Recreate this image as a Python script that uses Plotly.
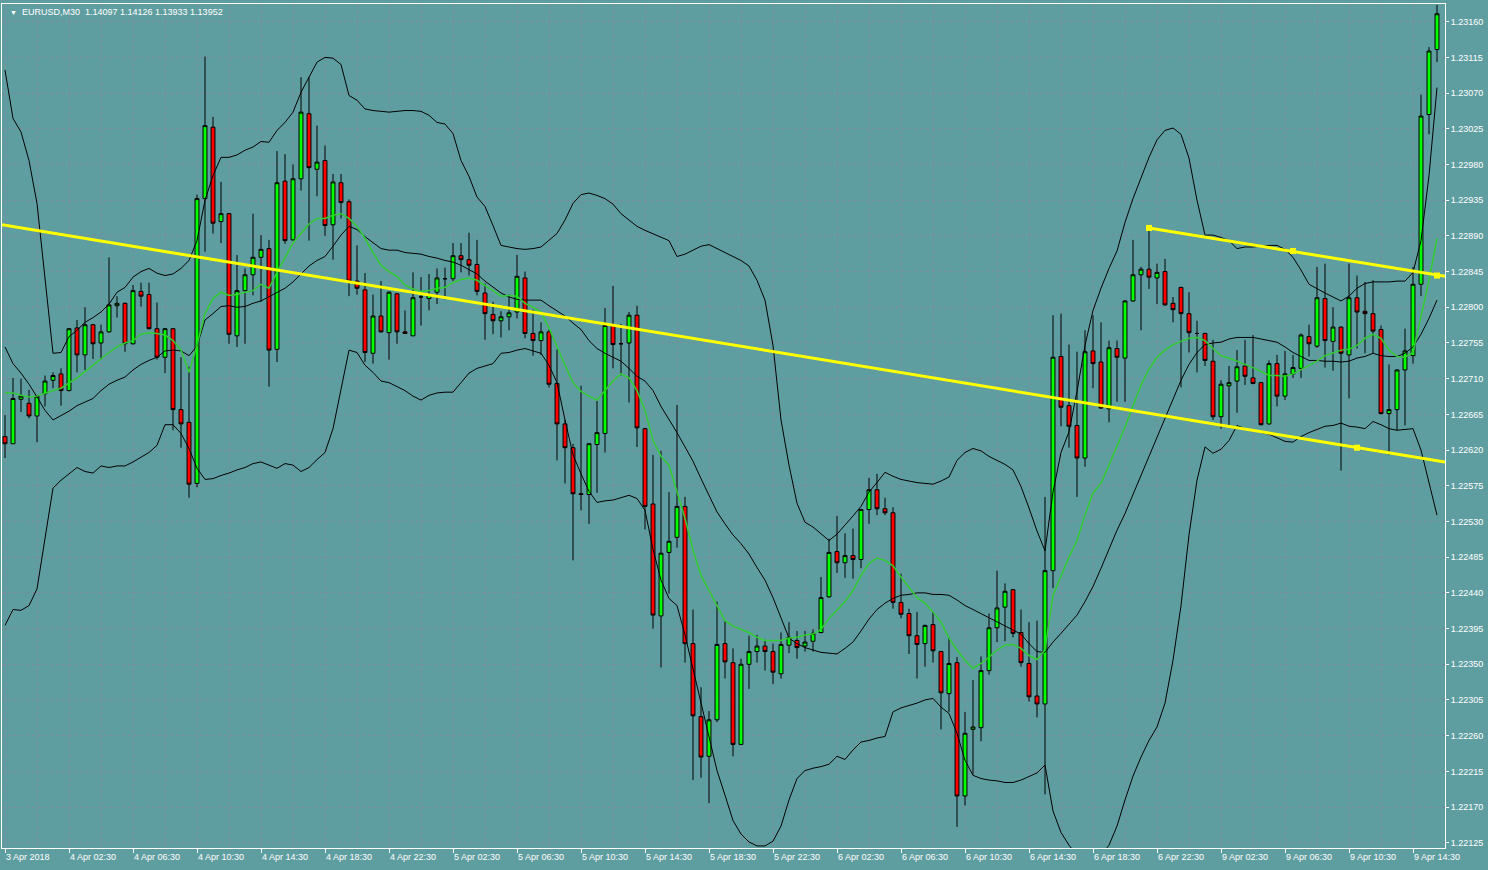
import plotly.graph_objects as go

# ---------------- data (EURUSD M30, bar index 0 = 3 Apr 2018 22:30) ----------------
BARS = list(range(180))

OPEN = [
    1.22637, 1.22628, 1.22684, 1.22679, 1.22663, 1.22691, 1.22708, 1.22716, 1.22695, 1.22774,
    1.22740, 1.22778, 1.22755, 1.22769, 1.22802, 1.22805, 1.22754, 1.22820, 1.22816, 1.22773,
    1.22737, 1.22773, 1.22671, 1.22655, 1.22578, 1.22937, 1.23027, 1.22908, 1.22918, 1.22764,
    1.22821, 1.22841, 1.22863, 1.22874, 1.22747, 1.22959, 1.22885, 1.22962, 1.23044, 1.22974,
    1.22985, 1.22904, 1.22957, 1.22933, 1.22833, 1.22822, 1.22742, 1.22789, 1.22768, 1.22817,
    1.22769, 1.22764, 1.22813, 1.22811, 1.22819, 1.22836, 1.22836, 1.22865, 1.22860, 1.22854,
    1.22818, 1.22791, 1.22783, 1.22788, 1.22794, 1.22837, 1.22767, 1.22758, 1.22769, 1.22704,
    1.22653, 1.22623, 1.22565, 1.22564, 1.22627, 1.22641, 1.22778, 1.22754, 1.22755, 1.22790,
    1.22647, 1.22552, 1.22411, 1.22491, 1.22510, 1.22549, 1.22376, 1.22284, 1.22234, 1.22280,
    1.22376, 1.22352, 1.22249, 1.22350, 1.22366, 1.22373, 1.22366, 1.22338, 1.22374, 1.22380,
    1.22373, 1.22379, 1.22390, 1.22435, 1.22492, 1.22478, 1.22487, 1.22482, 1.22545, 1.22570,
    1.22546, 1.22541, 1.22428, 1.22414, 1.22386, 1.22376, 1.22400, 1.22366, 1.22313, 1.22352,
    1.22184, 1.22268, 1.22270, 1.22342, 1.22396, 1.22422, 1.22444, 1.22390, 1.22351, 1.22310,
    1.22300, 1.22468, 1.22738, 1.22676, 1.22651, 1.22610, 1.22745, 1.22731, 1.22672, 1.22748,
    1.22736, 1.22808, 1.22841, 1.22848, 1.22837, 1.22845, 1.22805, 1.22825, 1.22792, 1.22767,
    1.22767, 1.22732, 1.22662, 1.22701, 1.22707, 1.22726, 1.22711, 1.22705, 1.22653, 1.22729,
    1.22688, 1.22716, 1.22723, 1.22763, 1.22751, 1.22811, 1.22757, 1.22775, 1.22740, 1.22812,
    1.22795, 1.22792, 1.22772, 1.22666, 1.22671, 1.22721, 1.22739, 1.22829, 1.23043, 1.23125,
]
HIGH = [
    1.22664, 1.22711, 1.22710, 1.22696, 1.22689, 1.22714, 1.22718, 1.22723, 1.22774, 1.22784,
    1.22800, 1.22779, 1.22778, 1.22863, 1.22814, 1.22806, 1.22828, 1.22831, 1.22831, 1.22806,
    1.22774, 1.22774, 1.22737, 1.22725, 1.22942, 1.23116, 1.23040, 1.22958, 1.22919, 1.22866,
    1.22849, 1.22918, 1.22891, 1.22885, 1.22997, 1.22993, 1.22980, 1.23090, 1.23090, 1.23029,
    1.23004, 1.22968, 1.22968, 1.22936, 1.22878, 1.22843, 1.22816, 1.22833, 1.22820, 1.22818,
    1.22796, 1.22844, 1.22838, 1.22842, 1.22849, 1.22850, 1.22881, 1.22881, 1.22894, 1.22885,
    1.22830, 1.22807, 1.22795, 1.22816, 1.22866, 1.22845, 1.22797, 1.22781, 1.22772, 1.22747,
    1.22658, 1.22628, 1.22701, 1.22629, 1.22682, 1.22799, 1.22827, 1.22779, 1.22794, 1.22802,
    1.22648, 1.22614, 1.22619, 1.22567, 1.22677, 1.22561, 1.22419, 1.22321, 1.22291, 1.22429,
    1.22405, 1.22370, 1.22357, 1.22386, 1.22387, 1.22381, 1.22376, 1.22390, 1.22403, 1.22392,
    1.22392, 1.22394, 1.22460, 1.22508, 1.22537, 1.22515, 1.22521, 1.22546, 1.22585, 1.22590,
    1.22560, 1.22548, 1.22464, 1.22420, 1.22416, 1.22400, 1.22416, 1.22367, 1.22384, 1.22359,
    1.22290, 1.22330, 1.22360, 1.22414, 1.22468, 1.22452, 1.22445, 1.22419, 1.22403, 1.22405,
    1.22561, 1.22790, 1.22792, 1.22753, 1.22744, 1.22771, 1.22790, 1.22781, 1.22758, 1.22758,
    1.22809, 1.22885, 1.22851, 1.22900, 1.22855, 1.22861, 1.22813, 1.22826, 1.22819, 1.22783,
    1.22768, 1.22759, 1.22708, 1.22726, 1.22746, 1.22759, 1.22765, 1.22706, 1.22733, 1.22740,
    1.22745, 1.22740, 1.22767, 1.22778, 1.22851, 1.22855, 1.22800, 1.22776, 1.22855, 1.22840,
    1.22832, 1.22834, 1.22777, 1.22728, 1.22722, 1.22773, 1.22851, 1.23068, 1.23128, 1.23181,
]
LOW = [
    1.22610, 1.22628, 1.22668, 1.22660, 1.22630, 1.22675, 1.22698, 1.22676, 1.22694, 1.22718,
    1.22721, 1.22735, 1.22734, 1.22768, 1.22787, 1.22744, 1.22753, 1.22801, 1.22772, 1.22734,
    1.22717, 1.22645, 1.22623, 1.22560, 1.22573, 1.22870, 1.22893, 1.22881, 1.22754, 1.22750,
    1.22754, 1.22815, 1.22807, 1.22700, 1.22731, 1.22880, 1.22884, 1.22947, 1.22884, 1.22940,
    1.22890, 1.22860, 1.22912, 1.22814, 1.22816, 1.22731, 1.22729, 1.22768, 1.22734, 1.22754,
    1.22767, 1.22764, 1.22777, 1.22796, 1.22804, 1.22810, 1.22833, 1.22844, 1.22840, 1.22815,
    1.22759, 1.22766, 1.22762, 1.22771, 1.22786, 1.22761, 1.22739, 1.22740, 1.22699, 1.22607,
    1.22578, 1.22481, 1.22544, 1.22527, 1.22566, 1.22617, 1.22723, 1.22714, 1.22680, 1.22624,
    1.22520, 1.22395, 1.22346, 1.22439, 1.22497, 1.22352, 1.22204, 1.22207, 1.22175, 1.22277,
    1.22332, 1.22234, 1.22248, 1.22319, 1.22352, 1.22342, 1.22325, 1.22332, 1.22364, 1.22357,
    1.22366, 1.22366, 1.22389, 1.22434, 1.22465, 1.22459, 1.22458, 1.22471, 1.22527, 1.22538,
    1.22538, 1.22420, 1.22408, 1.22363, 1.22332, 1.22347, 1.22352, 1.22268, 1.22290, 1.22145,
    1.22172, 1.22211, 1.22253, 1.22337, 1.22378, 1.22379, 1.22384, 1.22347, 1.22303, 1.22283,
    1.22186, 1.22446, 1.22650, 1.22623, 1.22561, 1.22599, 1.22698, 1.22672, 1.22655, 1.22681,
    1.22681, 1.22807, 1.22771, 1.22823, 1.22804, 1.22802, 1.22781, 1.22699, 1.22743, 1.22718,
    1.22726, 1.22658, 1.22647, 1.22649, 1.22667, 1.22702, 1.22703, 1.22651, 1.22652, 1.22675,
    1.22683, 1.22711, 1.22711, 1.22738, 1.22749, 1.22724, 1.22720, 1.22594, 1.22685, 1.22748,
    1.22742, 1.22742, 1.22665, 1.22614, 1.22645, 1.22651, 1.22729, 1.22814, 1.23018, 1.23109,
]
CLOSE = [
    1.22628, 1.22685, 1.22688, 1.22663, 1.22688, 1.22707, 1.22714, 1.22695, 1.22773, 1.22740,
    1.22778, 1.22754, 1.22769, 1.22803, 1.22805, 1.22754, 1.22821, 1.22814, 1.22773, 1.22737,
    1.22773, 1.22671, 1.22653, 1.22577, 1.22937, 1.23029, 1.22906, 1.22918, 1.22766, 1.22821,
    1.22841, 1.22863, 1.22873, 1.22746, 1.22957, 1.22884, 1.22962, 1.23046, 1.22976, 1.22983,
    1.22903, 1.22958, 1.22932, 1.22833, 1.22824, 1.22743, 1.22789, 1.22769, 1.22819, 1.22769,
    1.22767, 1.22812, 1.22813, 1.22816, 1.22837, 1.22836, 1.22865, 1.22860, 1.22853, 1.22820,
    1.22792, 1.22783, 1.22788, 1.22793, 1.22839, 1.22767, 1.22758, 1.22769, 1.22703, 1.22653,
    1.22623, 1.22565, 1.22564, 1.22628, 1.22642, 1.22777, 1.22753, 1.22754, 1.22790, 1.22648,
    1.22549, 1.22412, 1.22490, 1.22505, 1.22549, 1.22376, 1.22285, 1.22233, 1.22280, 1.22375,
    1.22353, 1.22249, 1.22350, 1.22366, 1.22373, 1.22366, 1.22340, 1.22375, 1.22384, 1.22371,
    1.22378, 1.22389, 1.22434, 1.22491, 1.22478, 1.22487, 1.22482, 1.22545, 1.22570, 1.22546,
    1.22541, 1.22428, 1.22413, 1.22386, 1.22375, 1.22399, 1.22367, 1.22314, 1.22351, 1.22184,
    1.22263, 1.22271, 1.22342, 1.22396, 1.22421, 1.22442, 1.22389, 1.22352, 1.22309, 1.22300,
    1.22468, 1.22737, 1.22674, 1.22650, 1.22610, 1.22744, 1.22729, 1.22673, 1.22749, 1.22737,
    1.22808, 1.22841, 1.22848, 1.22838, 1.22844, 1.22803, 1.22797, 1.22792, 1.22768, 1.22767,
    1.22733, 1.22662, 1.22703, 1.22705, 1.22725, 1.22713, 1.22704, 1.22652, 1.22729, 1.22688,
    1.22716, 1.22724, 1.22765, 1.22754, 1.22812, 1.22758, 1.22775, 1.22742, 1.22812, 1.22794,
    1.22792, 1.22770, 1.22666, 1.22671, 1.22721, 1.22745, 1.22829, 1.23041, 1.23123, 1.23170,
]

# Bollinger bands (black)
BB_UPPER = [
    1.23099, 1.23038, 1.23021, 1.22985, 1.22931, 1.22840, 1.22742, 1.22743, 1.22763, 1.22771,
    1.22781, 1.22787, 1.22794, 1.22804, 1.22819, 1.22825, 1.22838, 1.22845, 1.22849, 1.22843,
    1.22840, 1.22842, 1.22849, 1.22859, 1.22884, 1.22935, 1.22966, 1.22989, 1.22989, 1.22992,
    1.22998, 1.23002, 1.23009, 1.23008, 1.23023, 1.23033, 1.23046, 1.23071, 1.23091, 1.23109,
    1.23115, 1.23114, 1.23106, 1.23067, 1.23061, 1.23050, 1.23048, 1.23047, 1.23046, 1.23047,
    1.23048, 1.23048, 1.23047, 1.23042, 1.23033, 1.23031, 1.23019, 1.22985, 1.22965, 1.22939,
    1.22927, 1.22903, 1.22878, 1.22876, 1.22874, 1.22873, 1.22874, 1.22876, 1.22884, 1.22893,
    1.22910, 1.22931, 1.22942, 1.22944, 1.22941, 1.22937, 1.22930, 1.22918, 1.22910, 1.22902,
    1.22897, 1.22893, 1.22889, 1.22884, 1.22864, 1.22867, 1.22872, 1.22877, 1.22879, 1.22874,
    1.22869, 1.22864, 1.22859, 1.22852, 1.22834, 1.22809, 1.22752, 1.22658, 1.22601, 1.22553,
    1.22529, 1.22523, 1.22515, 1.22506, 1.22514, 1.22525, 1.22537, 1.22549, 1.22567, 1.22579,
    1.22592, 1.22587, 1.22583, 1.22581, 1.22579, 1.22578, 1.22577, 1.22581, 1.22586, 1.22607,
    1.22617, 1.22622, 1.22619, 1.22612, 1.22607, 1.22602, 1.22595, 1.22574, 1.22547, 1.22518,
    1.22493, 1.22567, 1.22617, 1.22643, 1.22694, 1.22752, 1.22796, 1.22824, 1.22849, 1.22871,
    1.22907, 1.22937, 1.22963, 1.22989, 1.23011, 1.23023, 1.23026, 1.23018, 1.22988, 1.22935,
    1.22891, 1.22891, 1.22888, 1.22884, 1.22874, 1.22876, 1.22876, 1.22877, 1.22878, 1.22878,
    1.22873, 1.22863, 1.22847, 1.22829, 1.22823, 1.22818, 1.22813, 1.22808, 1.22814, 1.22824,
    1.22830, 1.22832, 1.22832, 1.22832, 1.22833, 1.22833, 1.22844, 1.22884, 1.22966, 1.23077,
]
BB_MIDDLE = [
    1.22750, 1.22729, 1.22717, 1.22703, 1.22687, 1.22670, 1.22658, 1.22663, 1.22669, 1.22676,
    1.22681, 1.22685, 1.22695, 1.22703, 1.22708, 1.22712, 1.22721, 1.22728, 1.22733, 1.22737,
    1.22745, 1.22746, 1.22745, 1.22739, 1.22751, 1.22784, 1.22792, 1.22801, 1.22802, 1.22800,
    1.22801, 1.22805, 1.22808, 1.22813, 1.22818, 1.22824, 1.22832, 1.22842, 1.22852, 1.22859,
    1.22864, 1.22877, 1.22891, 1.22902, 1.22898, 1.22889, 1.22882, 1.22874, 1.22872, 1.22872,
    1.22869, 1.22868, 1.22867, 1.22864, 1.22862, 1.22859, 1.22857, 1.22853, 1.22847, 1.22842,
    1.22833, 1.22826, 1.22818, 1.22813, 1.22810, 1.22809, 1.22809, 1.22809, 1.22802, 1.22795,
    1.22789, 1.22780, 1.22772, 1.22758, 1.22748, 1.22742, 1.22737, 1.22732, 1.22723, 1.22713,
    1.22707, 1.22695, 1.22675, 1.22659, 1.22642, 1.22624, 1.22606, 1.22584, 1.22562, 1.22542,
    1.22527, 1.22513, 1.22502, 1.22489, 1.22472, 1.22456, 1.22434, 1.22409, 1.22383, 1.22376,
    1.22371, 1.22368, 1.22365, 1.22364, 1.22363, 1.22370, 1.22378, 1.22392, 1.22407, 1.22419,
    1.22427, 1.22433, 1.22437, 1.22438, 1.22440, 1.22440, 1.22438, 1.22438, 1.22437, 1.22431,
    1.22424, 1.22419, 1.22414, 1.22408, 1.22403, 1.22398, 1.22393, 1.22388, 1.22376, 1.22366,
    1.22365, 1.22378, 1.22389, 1.22400, 1.22412, 1.22429, 1.22448, 1.22471, 1.22495, 1.22519,
    1.22540, 1.22564, 1.22590, 1.22614, 1.22637, 1.22661, 1.22685, 1.22708, 1.22728, 1.22743,
    1.22753, 1.22755, 1.22756, 1.22760, 1.22762, 1.22762, 1.22762, 1.22760, 1.22758, 1.22756,
    1.22750, 1.22743, 1.22738, 1.22733, 1.22733, 1.22732, 1.22732, 1.22731, 1.22732, 1.22736,
    1.22738, 1.22742, 1.22739, 1.22738, 1.22738, 1.22742, 1.22750, 1.22766, 1.22786, 1.22809,
]
BB_LOWER = [
    1.22399, 1.22419, 1.22418, 1.22424, 1.22445, 1.22510, 1.22572, 1.22582, 1.22590, 1.22598,
    1.22593, 1.22591, 1.22600, 1.22598, 1.22600, 1.22600, 1.22605, 1.22611, 1.22617, 1.22626,
    1.22652, 1.22652, 1.22641, 1.22622, 1.22597, 1.22583, 1.22584, 1.22588, 1.22591, 1.22595,
    1.22598, 1.22603, 1.22605, 1.22601, 1.22597, 1.22603, 1.22601, 1.22593, 1.22598, 1.22608,
    1.22617, 1.22647, 1.22695, 1.22746, 1.22743, 1.22727, 1.22718, 1.22707, 1.22705, 1.22700,
    1.22695, 1.22688, 1.22683, 1.22689, 1.22692, 1.22693, 1.22693, 1.22705, 1.22717, 1.22723,
    1.22726, 1.22729, 1.22742, 1.22743, 1.22746, 1.22748, 1.22745, 1.22742, 1.22727, 1.22705,
    1.22658, 1.22614, 1.22590, 1.22568, 1.22554, 1.22556, 1.22557, 1.22560, 1.22563, 1.22559,
    1.22544, 1.22495, 1.22456, 1.22433, 1.22424, 1.22387, 1.22344, 1.22303, 1.22258, 1.22216,
    1.22185, 1.22153, 1.22136, 1.22126, 1.22121, 1.22121, 1.22127, 1.22146, 1.22179, 1.22206,
    1.22216, 1.22219, 1.22221, 1.22224, 1.22234, 1.22230, 1.22242, 1.22252, 1.22254, 1.22257,
    1.22259, 1.22290, 1.22295, 1.22298, 1.22301, 1.22305, 1.22307, 1.22296, 1.22288, 1.22263,
    1.22229, 1.22210, 1.22206, 1.22204, 1.22203, 1.22201, 1.22201, 1.22204, 1.22208, 1.22213,
    1.22223, 1.22165, 1.22138, 1.22122, 1.22109, 1.22100, 1.22100, 1.22109, 1.22122, 1.22146,
    1.22179, 1.22209, 1.22233, 1.22254, 1.22271, 1.22301, 1.22355, 1.22424, 1.22513, 1.22582,
    1.22624, 1.22616, 1.22621, 1.22632, 1.22651, 1.22647, 1.22645, 1.22642, 1.22640, 1.22635,
    1.22631, 1.22630, 1.22637, 1.22642, 1.22646, 1.22650, 1.22651, 1.22654, 1.22650, 1.22649,
    1.22647, 1.22656, 1.22652, 1.22647, 1.22645, 1.22646, 1.22647, 1.22620, 1.22577, 1.22538,
]
# fast moving average (green)
MA_FAST = [
    1.22692, 1.22692, 1.22689, 1.22687, 1.22688, 1.22692, 1.22695, 1.22698, 1.22704, 1.22711,
    1.22719, 1.22727, 1.22736, 1.22743, 1.22750, 1.22755, 1.22758, 1.22766, 1.22768, 1.22767,
    1.22765, 1.22758, 1.22746, 1.22718, 1.22752, 1.22792, 1.22811, 1.22819, 1.22815, 1.22816,
    1.22819, 1.22821, 1.22829, 1.22824, 1.22844, 1.22862, 1.22881, 1.22893, 1.22905, 1.22912,
    1.22912, 1.22916, 1.22918, 1.22912, 1.22902, 1.22887, 1.22869, 1.22853, 1.22845, 1.22839,
    1.22828, 1.22823, 1.22820, 1.22821, 1.22824, 1.22825, 1.22831, 1.22835, 1.22837, 1.22834,
    1.22828, 1.22821, 1.22814, 1.22815, 1.22814, 1.22805, 1.22800, 1.22794, 1.22774, 1.22750,
    1.22727, 1.22705, 1.22694, 1.22688, 1.22683, 1.22695, 1.22707, 1.22716, 1.22711, 1.22695,
    1.22670, 1.22632, 1.22612, 1.22601, 1.22569, 1.22534, 1.22494, 1.22462, 1.22443, 1.22424,
    1.22405, 1.22398, 1.22394, 1.22390, 1.22384, 1.22380, 1.22380, 1.22380, 1.22383, 1.22384,
    1.22387, 1.22388, 1.22394, 1.22408, 1.22418, 1.22429, 1.22443, 1.22462, 1.22477, 1.22484,
    1.22481, 1.22474, 1.22460, 1.22447, 1.22434, 1.22427, 1.22416, 1.22403, 1.22383, 1.22368,
    1.22355, 1.22345, 1.22351, 1.22359, 1.22368, 1.22374, 1.22375, 1.22370, 1.22361, 1.22356,
    1.22368, 1.22437, 1.22462, 1.22485, 1.22506, 1.22538, 1.22566, 1.22578, 1.22601, 1.22624,
    1.22649, 1.22676, 1.22702, 1.22722, 1.22737, 1.22746, 1.22753, 1.22757, 1.22761, 1.22762,
    1.22758, 1.22748, 1.22739, 1.22736, 1.22732, 1.22729, 1.22724, 1.22719, 1.22714, 1.22714,
    1.22713, 1.22716, 1.22721, 1.22726, 1.22732, 1.22739, 1.22743, 1.22746, 1.22747, 1.22752,
    1.22761, 1.22766, 1.22761, 1.22746, 1.22738, 1.22737, 1.22743, 1.22790, 1.22834, 1.22887,
]

# yellow trend lines (bar index, price)
TREND_LONG_X = [-0.375, 180.0]
TREND_LONG_Y = [1.22904, 1.22605]
TREND_UP_X = [143, 180.0]
TREND_UP_Y = [1.22900, 1.22839]
TREND_MARK_X = [143, 161, 179, 169]
TREND_MARK_Y = [1.22900, 1.22871, 1.22840, 1.22623]

X_TICKS = [0, 8, 16, 24, 32, 40, 48, 56, 64, 72, 80, 88, 96, 104, 112, 120, 128, 136, 144, 152, 160, 168, 176]
X_LABELS = ["3 Apr 2018", "4 Apr 02:30", "4 Apr 06:30", "4 Apr 10:30", "4 Apr 14:30", "4 Apr 18:30",
            "4 Apr 22:30", "5 Apr 02:30", "5 Apr 06:30", "5 Apr 10:30", "5 Apr 14:30", "5 Apr 18:30",
            "5 Apr 22:30", "6 Apr 02:30", "6 Apr 06:30", "6 Apr 10:30", "6 Apr 14:30", "6 Apr 18:30",
            "6 Apr 22:30", "9 Apr 02:30", "9 Apr 06:30", "9 Apr 10:30", "9 Apr 14:30"]
X_MINOR = [4, 12, 20, 28, 36, 44, 52, 60, 68, 76, 84, 92, 100, 108, 116, 124, 132, 140, 148, 156, 164, 172]
Y_TICKS = [1.22125, 1.22170, 1.22215, 1.22260, 1.22305, 1.22350, 1.22395, 1.22440, 1.22485, 1.22530,
           1.22575, 1.22620, 1.22665, 1.22710, 1.22755, 1.22800, 1.22845, 1.22890, 1.22935, 1.22980,
           1.23025, 1.23070, 1.23115, 1.23160]
Y_LABELS = ["1.22125", "1.22170", "1.22215", "1.22260", "1.22305", "1.22350", "1.22395", "1.22440",
            "1.22485", "1.22530", "1.22575", "1.22620", "1.22665", "1.22710", "1.22755", "1.22800",
            "1.22845", "1.22890", "1.22935", "1.22980", "1.23025", "1.23070", "1.23115", "1.23160"]
HEADER = "EURUSD,M30  1.14097 1.14126 1.13933 1.13952"

for arr in (OPEN, HIGH, LOW, CLOSE, BB_UPPER, BB_MIDDLE, BB_LOWER, MA_FAST):
    assert len(arr) == len(BARS), len(arr)

# ---------------- styling ----------------
BG = "#5F9EA0"
GRID = "#7B8A9C"
FONT = "Liberation Sans, Arial, sans-serif"

fig = go.Figure()
fig.add_trace(go.Candlestick(
    x=BARS, open=OPEN, high=HIGH, low=LOW, close=CLOSE,
    increasing=dict(line=dict(color="black", width=1), fillcolor="#00FF00"),
    decreasing=dict(line=dict(color="black", width=1), fillcolor="#FF0000"),
    whiskerwidth=0, showlegend=False, hoverinfo="skip",
))
for band in (BB_UPPER, BB_MIDDLE, BB_LOWER):
    fig.add_trace(go.Scatter(x=BARS, y=band, mode="lines",
                             line=dict(color="black", width=1),
                             showlegend=False, hoverinfo="skip"))
fig.add_trace(go.Scatter(x=BARS, y=MA_FAST, mode="lines",
                         line=dict(color="#32CD32", width=1.5),
                         showlegend=False, hoverinfo="skip"))
fig.add_trace(go.Scatter(x=TREND_LONG_X, y=TREND_LONG_Y, mode="lines",
                         line=dict(color="#FFFF00", width=3),
                         showlegend=False, hoverinfo="skip"))
fig.add_trace(go.Scatter(x=TREND_UP_X, y=TREND_UP_Y, mode="lines",
                         line=dict(color="#FFFF00", width=3),
                         showlegend=False, hoverinfo="skip"))
fig.add_trace(go.Scatter(x=TREND_MARK_X, y=TREND_MARK_Y, mode="markers",
                         marker=dict(symbol="square", size=6, color="#FFFF00",
                                     line=dict(width=0)),
                         showlegend=False, hoverinfo="skip", cliponaxis=False))

fig.update_layout(
    width=1488, height=870,
    margin=dict(l=2, r=43, t=4, b=22, autoexpand=False),
    paper_bgcolor=BG, plot_bgcolor=BG,
    font=dict(family=FONT, size=9, color="white"),
    showlegend=False,
    xaxis=dict(
        range=[-0.375, 180.0], rangeslider=dict(visible=False),
        tickmode="array", tickvals=X_TICKS, ticktext=X_LABELS,
        ticks="outside", ticklen=4, tickcolor="white", tickwidth=1,
        ticklabelposition="outside right", ticklabeloverflow="allow",
        tickfont=dict(family=FONT, size=9, color="white"),
        showline=True, linecolor="white", linewidth=1, mirror=True,
        showgrid=True, gridcolor=GRID, griddash="3px,3px", gridwidth=1,
        minor=dict(tickmode="array", tickvals=X_MINOR, ticks="", showgrid=True,
                   gridcolor=GRID, griddash="3px,3px", gridwidth=1),
        zeroline=False, fixedrange=True,
    ),
    yaxis=dict(
        side="right", range=[1.221184, 1.231823],
        tickmode="array", tickvals=Y_TICKS, ticktext=Y_LABELS,
        ticks="outside", ticklen=3, tickcolor="white", tickwidth=1,
        tickfont=dict(family=FONT, size=9, color="white"),
        showline=True, linecolor="white", linewidth=1, mirror=True,
        showgrid=True, gridcolor=GRID, griddash="3px,3px", gridwidth=1,
        zeroline=False, fixedrange=True,
    ),
)

fig.add_annotation(xref="paper", yref="paper", x=0.0042, y=0.9905, text="▼",
                   showarrow=False, xanchor="left", yanchor="middle",
                   font=dict(family=FONT, size=7, color="white"))
fig.add_annotation(xref="paper", yref="paper", x=0.0125, y=0.9905, text=HEADER,
                   showarrow=False, xanchor="left", yanchor="middle",
                   font=dict(family=FONT, size=9, color="white"))

fig.write_html(
    "out.html",
    config={"displayModeBar": False},
    post_script="document.body.style.margin='0';document.body.style.overflow='hidden';",
)
